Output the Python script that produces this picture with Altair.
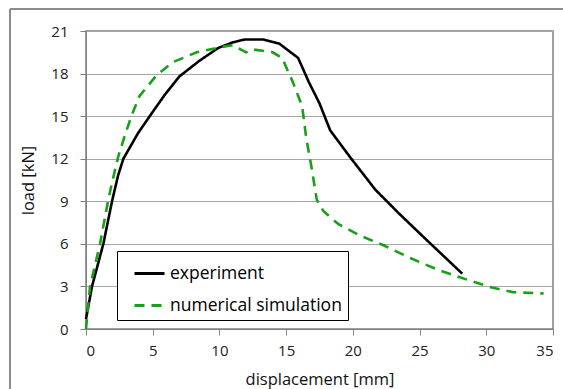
import altair as alt
import pandas as pd

exp_x = [0.0, 0.45, 1.3, 1.95, 2.4, 2.8, 3.9, 5.0, 5.9, 7.0, 8.5, 9.9, 11.0, 11.9, 13.3, 14.5, 15.9, 16.7, 17.5, 18.3, 19.8, 21.7, 23.5, 25.5, 28.2]
exp_y = [0.7, 3.0, 6.0, 9.0, 10.8, 12.0, 13.8, 15.3, 16.5, 17.8, 18.9, 19.8, 20.2, 20.4, 20.4, 20.1, 19.1, 17.4, 15.9, 14.0, 12.1, 9.8, 8.1, 6.3, 3.9]

sim_x = [0.0, 0.3, 1.05, 1.65, 1.9, 2.4, 2.9, 3.4, 4.0, 5.3, 6.5, 8.3, 10.3, 11.0, 12.0, 12.5, 14.0, 14.7, 15.5, 16.2, 16.5, 16.9, 17.3, 17.8, 18.9, 20.5, 22.3, 24.3, 26.3, 28.8, 30.5, 32.0, 34.3]
sim_y = [0.0, 3.0, 6.0, 9.0, 10.1, 12.1, 13.6, 15.0, 16.4, 17.9, 18.8, 19.5, 19.9, 20.0, 19.5, 19.7, 19.5, 19.1, 17.4, 15.7, 13.5, 11.4, 9.1, 8.3, 7.4, 6.6, 5.9, 5.0, 4.2, 3.4, 2.9, 2.6, 2.5]

series_names = ["experiment", "numerical simulation"]
x_ticks = [0, 5, 10, 15, 20, 25, 30, 35]
y_ticks = [0, 3, 6, 9, 12, 15, 18, 21]

rows = []
for i, (a, b) in enumerate(zip(exp_x, exp_y)):
    rows.append({"d": a, "load": b, "series": series_names[0], "o": i})
for i, (a, b) in enumerate(zip(sim_x, sim_y)):
    rows.append({"d": a, "load": b, "series": series_names[1], "o": i})
df = pd.DataFrame(rows)

FONT = "Open Sans"
NBSP = "\u00a0" * 3

lines = alt.Chart(df).mark_line(strokeWidth=2.6).encode(
    x=alt.X("d:Q", scale=alt.Scale(domain=[0, 35], nice=False),
            axis=alt.Axis(values=x_ticks, title="displacement [mm]", grid=False,
                          tickSize=6, labelPadding=8, titlePadding=13)),
    y=alt.Y("load:Q", scale=alt.Scale(domain=[0, 21], nice=False),
            axis=alt.Axis(values=y_ticks, title="load [kN]", grid=True,
                          tickSize=6, labelPadding=12, titlePadding=14)),
    color=alt.Color("series:N", scale=alt.Scale(domain=series_names, range=["#000000", "#18a018"]),
                    legend=alt.Legend(title=None, orient="none", legendX=31, legendY=220,
                                      symbolType="stroke", symbolSize=900, symbolStrokeWidth=3,
                                      symbolOffset=10,
                                      labelFontSize=17.5, labelFont=FONT, labelColor="#000000",
                                      labelLimit=400, labelExpr="datum.label + '" + NBSP + "'",
                                      strokeColor="#000000", padding=6, rowPadding=7,
                                      fillColor="white", labelOffset=4)),
    strokeDash=alt.StrokeDash("series:N", scale=alt.Scale(domain=series_names, range=[[1, 0], [10, 7]]),
                              legend=None),
    order="o:Q",
)

frame = alt.Chart(df).mark_rect(fill=None, stroke="#8c8c8c", strokeWidth=1).encode(
    x=alt.value(-76), x2=alt.value(600), y=alt.value(-22), y2=alt.value(420)
)

chart = alt.layer(frame, lines).properties(
    width=467, height=298,
    padding={"left": 86, "top": 31, "right": 10, "bottom": 60},
    autosize=alt.AutoSizeParams(type="none"),
).configure_view(
    stroke="#808080", strokeWidth=1.5
).configure_axis(
    domainColor="#808080", tickColor="#808080", gridColor="#a6a6a6",
    labelFont=FONT, titleFont=FONT, labelFontSize=15, titleFontSize=16.5,
    labelColor="#222222", titleColor="#111111", titleFontWeight="normal",
)

chart.save("out.html", embed_options={"renderer": "svg", "actions": False})
